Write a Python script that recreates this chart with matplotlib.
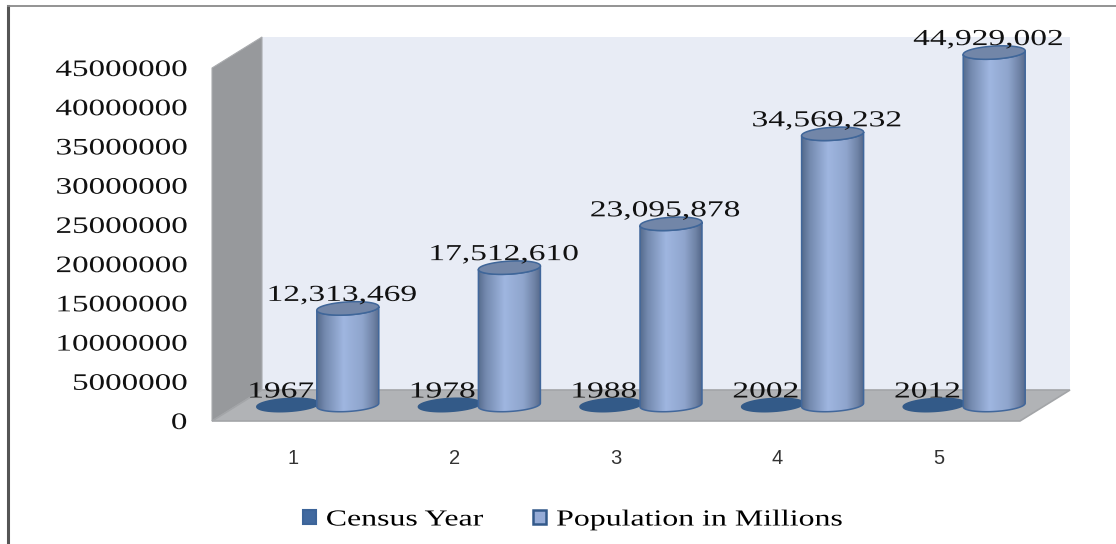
import numpy as np
import matplotlib
matplotlib.use('Agg')
import matplotlib.pyplot as plt
from matplotlib.colors import LinearSegmentedColormap
from matplotlib.patches import Patch, Polygon
from matplotlib.lines import Line2D
from matplotlib.patheffects import AbstractPathEffect
from matplotlib.transforms import Affine2D

slots = [1, 2, 3, 4, 5]
census_year = [1967, 1978, 1988, 2002, 2012]
population = [12313469, 17512610, 23095878, 34569232, 44929002]
y_ticks = [0, 5000000, 10000000, 15000000, 20000000, 25000000, 30000000, 35000000, 40000000, 45000000]
series_names = ['Census Year', 'Population in Millions']

W, H = 1116, 544
FONT = 'Liberation Serif'

#size of one unit in pixels, front plane of the box
PX_X = 808 / 5.0
PX_Y = 353 / 45000000.0

#3d look, all in pixels
DEPTH_X, DEPTH_Y = 50, 31
BAR_DX, BAR_DY = 25, 16
R_X, R_Y, TILT = 31, 6.5, 1.8

body_cmap = LinearSegmentedColormap.from_list('body', [
	(0.0, '#566b8d'), (0.12, '#7389ae'), (0.42, '#9fb6e0'),
	(0.72, '#8fa5cd'), (0.9, '#6f83a6'), (1.0, '#55688a')])

#the text in the picture is pulled wide, matplotlib has no font stretch for that
class Stretch(AbstractPathEffect):
	def __init__(self, sx, anchor):
		super().__init__()
		self.sx = sx
		self.anchor = anchor

	def draw_path(self, renderer, gc, tpath, affine, rgbFace=None):
		ext = tpath.get_extents()
		cx = ext.x0 + ext.width * self.anchor
		wide = Affine2D().translate(-cx, 0).scale(self.sx, 1).translate(cx, 0) + affine
		renderer.draw_path(gc, tpath, wide, rgbFace)

def ellipse_xy(cx, cy, t):
	xs = cx + R_X / PX_X * np.cos(t)
	ys = cy + (R_Y * np.sin(t) + TILT * np.cos(t)) / PX_Y
	return np.column_stack([xs, ys])

def draw_box(ax):
	dx, dy = DEPTH_X / PX_X, DEPTH_Y / PX_Y
	x0, x1 = 0.5, 5.5
	y1 = 45000000
	ax.add_patch(Polygon([(x0 + dx, dy), (x1 + dx, dy), (x1 + dx, y1 + dy), (x0 + dx, y1 + dy)],
		fc='#e8ecf5', ec='none', clip_on=False, zorder=1))
	ax.add_patch(Polygon([(x0, 0), (x0 + dx, dy), (x0 + dx, y1 + dy), (x0, y1)],
		fc='#97999c', ec='#a9abae', lw=0.8, clip_on=False, zorder=2))
	ax.add_patch(Polygon([(x0, 0), (x0 + dx, dy), (x1 + dx, dy), (x1, 0)],
		fc='#b1b3b6', ec='#a3a5a8', lw=1.2, clip_on=False, zorder=2))

def draw_disc(ax, x, base, value, fc, ec, z):
	t = np.linspace(0, 2 * np.pi, 120)
	ax.add_patch(Polygon(ellipse_xy(x, base + value, t), fc=fc, ec=ec, lw=1.1, clip_on=False, zorder=z))

def draw_cylinder(ax, x, base, value, z):
	t_low = np.linspace(np.pi, 2 * np.pi, 60)
	t_up = np.linspace(2 * np.pi, np.pi, 60)
	outline = np.vstack([ellipse_xy(x, base, t_low), ellipse_xy(x, base + value, t_up)])
	dx = R_X / PX_X
	grad = np.linspace(0, 1, 128).reshape(1, -1)
	im = ax.imshow(grad, cmap=body_cmap, aspect='auto', zorder=z,
		extent=[x - dx, x + dx, base - 15 / PX_Y, base + value + 15 / PX_Y])
	im.set_clip_box(ax.figure.bbox)
	im.set_clip_path(Polygon(outline, transform=ax.transData))
	ax.add_patch(Polygon(outline, fc='none', ec='#41679b', lw=1.1, clip_on=False, zorder=z + 0.2))
	draw_disc(ax, x, base, value, '#7286a8', '#3f6699', z + 0.3)

def main():
	fig = plt.figure(figsize=(W / 100.0, H / 100.0), dpi=100, facecolor='white')

	#frame round the picture
	fig.add_artist(Line2D([7.5 / W, 7.5 / W], [0, 1 - 5.5 / H], color='#555555', lw=2.2))
	fig.add_artist(Line2D([7.5 / W, 1], [1 - 5.5 / H, 1 - 5.5 / H], color='#8a8a8a', lw=1.3))

	ax = fig.add_axes([212.0 / W, 1 - 421.0 / H, 808.0 / W, 353.0 / H])
	ax.patch.set_alpha(0)
	for s in ax.spines.values():
		s.set_visible(False)

	draw_box(ax)

	base = BAR_DY / PX_Y
	off = BAR_DX / PX_X
	shift = 30 / PX_X
	for i, x in enumerate(slots):
		draw_disc(ax, x + off - shift, base, census_year[i], '#335a88', '#335a88', 3)
		draw_cylinder(ax, x + off + shift, base, population[i], 4)
		a = ax.annotate(str(census_year[i]), (x + off - shift, base + census_year[i]),
			xytext=(-7, 13), textcoords='offset pixels', ha='center', va='center',
			fontsize=16.5, family=FONT, color='#111111', zorder=8)
		b = ax.annotate(format(population[i], ','), (x + off + shift, base + population[i]),
			xytext=(-6, 13), textcoords='offset pixels', ha='center', va='center',
			fontsize=16.5, family=FONT, color='#111111', zorder=8, annotation_clip=False)
		a.set_path_effects([Stretch(1.46, 0.5)])
		b.set_path_effects([Stretch(1.46, 0.5)])

	ax.set_xlim(0.5, 5.5)
	ax.set_ylim(0, 45000000)
	ax.set_xticks(slots)
	ax.set_xticklabels([str(s) for s in slots], fontsize=14.5, family='Liberation Sans', color='#333333')
	ax.set_yticks(y_ticks)
	ax.set_yticklabels([str(v) for v in y_ticks], fontsize=17, family=FONT, color='#111111')
	ax.tick_params(axis='x', length=0, pad=20)
	ax.tick_params(axis='y', length=0, pad=18)
	for t in ax.get_yticklabels():
		t.set_path_effects([Stretch(1.4, 1.0)])

	handles = [Patch(fc='#41699f', ec='#3c6499', lw=1.5), Patch(fc='#95abd6', ec='#33598a', lw=1.8)]
	leg = fig.legend(handles, series_names, loc='center left', bbox_to_anchor=(303.0 / W, 1 - 520.0 / H), ncol=2,
		frameon=False, handlelength=0.57, handleheight=0.57, handletextpad=0.44, columnspacing=4.1,
		borderpad=0, borderaxespad=0, prop={'family': FONT, 'size': 16.5})
	for t in leg.get_texts():
		t.set_path_effects([Stretch(1.39, 0.0)])

	fig.savefig('out.png', dpi=100)

if __name__ == "__main__":
	main()
